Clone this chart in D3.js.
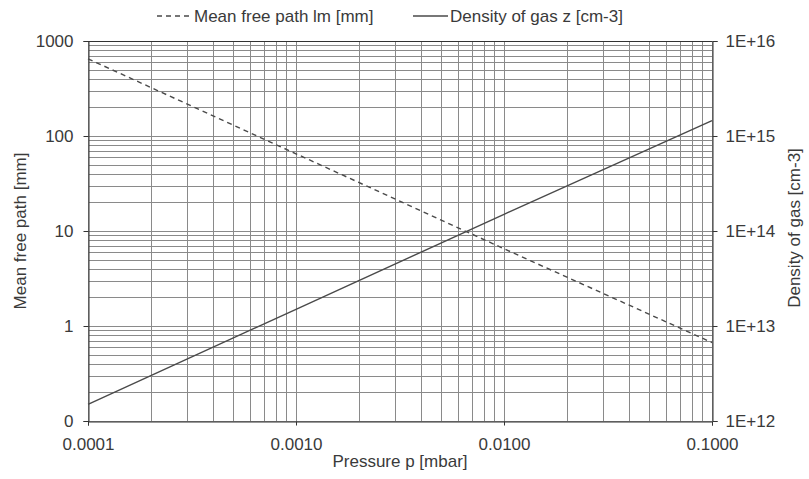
<!DOCTYPE html>
<html lang="en">
<head>
    <meta charset="UTF-8">
    <title>Mean free path and density of gas</title>
    <script src="https://cdn.jsdelivr.net/npm/d3@7"></script>
    <style>
        body{
            margin: 0;
            background: #fff;
            font-family: "Liberation Sans", Arial, sans-serif;
        }
        .grid line{
            stroke: #8a8a8a;
            stroke-width: 1px;
        }
        .axis text{
            font-size: 17px;
            fill: #3a3a3a;
        }
        .axis path, .axis line{
            stroke: #333;
        }
        .mfpline{
            stroke: #4a4a4a;
            stroke-width: 1.4px;
            stroke-dasharray: 5 4;
            fill: none;
        }
        .densline{
            stroke: #4a4a4a;
            stroke-width: 1.4px;
            fill: none;
        }
        .label{
            font-size: 17px;
            fill: #3a3a3a;
        }
    </style>
</head>
<body>
<script>
    // data
    const pressure = [0.0001, 0.001, 0.01, 0.1];          // mbar
    const meanFreePath = [650, 65, 6.5, 0.67];            // mm
    const density = [1.5e12, 1.5e13, 1.5e14, 1.45e15];    // cm-3

    const xTicks = [0.0001, 0.001, 0.01, 0.1];
    const xTickLabels = ["0.0001", "0.0010", "0.0100", "0.1000"];
    const leftTicks = [0.1, 1, 10, 100, 1000];
    const leftTickLabels = ["0", "1", "10", "100", "1000"];
    const rightTicks = [1e12, 1e13, 1e14, 1e15, 1e16];
    const rightTickLabels = ["1E+12", "1E+13", "1E+14", "1E+15", "1E+16"];

    const width = 809, height = 479;
    const margins = {top: 41, bottom: 58, left: 88, right: 97};

    const svg = d3.select("body").append("svg")
        .attr("width", width)
        .attr("height", height);

    const xScale = d3.scaleLog()
        .domain([0.0001, 0.1])
        .range([margins.left, width - margins.right]);
    const yLeft = d3.scaleLog()
        .domain([0.1, 1000])
        .range([height - margins.bottom, margins.top]);
    const yRight = d3.scaleLog()
        .domain([1e12, 1e16])
        .range([height - margins.bottom, margins.top]);

    // minor grid values: 1..9 in every decade
    function logGrid(lo, hi){
        let out = [];
        for (let e = Math.log10(lo); e < Math.log10(hi); e++){
            for (let m = 1; m < 10; m++) out.push(m * Math.pow(10, e));
        }
        out.push(hi);
        return out;
    }

    const grid = svg.append("g").attr("class", "grid");
    grid.selectAll(".v")
        .data(logGrid(0.0001, 0.1))
        .enter().append("line")
        .attr("x1", d => Math.round(xScale(d)) + 0.5)
        .attr("x2", d => Math.round(xScale(d)) + 0.5)
        .attr("y1", margins.top)
        .attr("y2", height - margins.bottom);
    grid.selectAll(".h")
        .data(logGrid(0.1, 1000))
        .enter().append("line")
        .attr("y1", d => Math.round(yLeft(d)) + 0.5)
        .attr("y2", d => Math.round(yLeft(d)) + 0.5)
        .attr("x1", margins.left)
        .attr("x2", width - margins.right);

    // axes
    const xAxis = d3.axisBottom(xScale)
        .tickValues(xTicks)
        .tickFormat((d, i) => xTickLabels[i])
        .tickSize(4)
        .tickPadding(12);
    svg.append("g").attr("class", "axis")
        .attr("transform", `translate(0, ${height - margins.bottom + 0.5})`)
        .call(xAxis);

    const leftAxis = d3.axisLeft(yLeft)
        .tickValues(leftTicks)
        .tickFormat((d, i) => leftTickLabels[i])
        .tickSize(5)
        .tickPadding(10);
    svg.append("g").attr("class", "axis")
        .attr("transform", `translate(${margins.left + 0.5}, 0)`)
        .call(leftAxis);

    const rightAxis = d3.axisRight(yRight)
        .tickValues(rightTicks)
        .tickFormat((d, i) => rightTickLabels[i])
        .tickSize(5)
        .tickPadding(8);
    svg.append("g").attr("class", "axis")
        .attr("transform", `translate(${width - margins.right + 0.5}, 0)`)
        .call(rightAxis);

    // top border
    svg.append("line")
        .attr("x1", margins.left).attr("x2", width - margins.right)
        .attr("y1", margins.top + 0.5).attr("y2", margins.top + 0.5)
        .attr("stroke", "#333");

    // lines
    const mfpLine = d3.line()
        .x((d, i) => xScale(pressure[i]))
        .y(d => yLeft(d));
    const densLine = d3.line()
        .x((d, i) => xScale(pressure[i]))
        .y(d => yRight(d));

    svg.append("path").datum(meanFreePath)
        .attr("class", "mfpline")
        .attr("d", mfpLine);
    svg.append("path").datum(density)
        .attr("class", "densline")
        .attr("d", densLine);

    // axis titles
    svg.append("text").attr("class", "label")
        .attr("x", (margins.left + width - margins.right) / 2)
        .attr("y", 467)
        .attr("text-anchor", "middle")
        .text("Pressure p [mbar]");
    svg.append("text").attr("class", "label")
        .attr("transform", `translate(26, ${(margins.top + height - margins.bottom) / 2}) rotate(-90)`)
        .attr("text-anchor", "middle")
        .text("Mean free path [mm]");
    svg.append("text").attr("class", "label")
        .attr("transform", `translate(800, ${(margins.top + height - margins.bottom) / 2 - 3}) rotate(-90)`)
        .attr("text-anchor", "middle")
        .text("Density of gas [cm-3]");

    // legend
    const legend = svg.append("g").attr("class", "legend")
        .selectAll()
        .data([{name: "Mean free path lm [mm]", cls: "mfpline", x: 157},
               {name: "Density of gas z [cm-3]", cls: "densline", x: 413}])
        .enter().append("g")
        .attr("transform", d => `translate(${d.x}, 16)`);
    legend.append("line")
        .attr("class", d => d.cls)
        .attr("x1", 0).attr("x2", 35)
        .attr("y1", 0).attr("y2", 0);
    legend.append("text")
        .attr("class", "label")
        .attr("x", 37)
        .attr("dy", "0.35em")
        .text(d => d.name);
</script>
</body>
</html>
